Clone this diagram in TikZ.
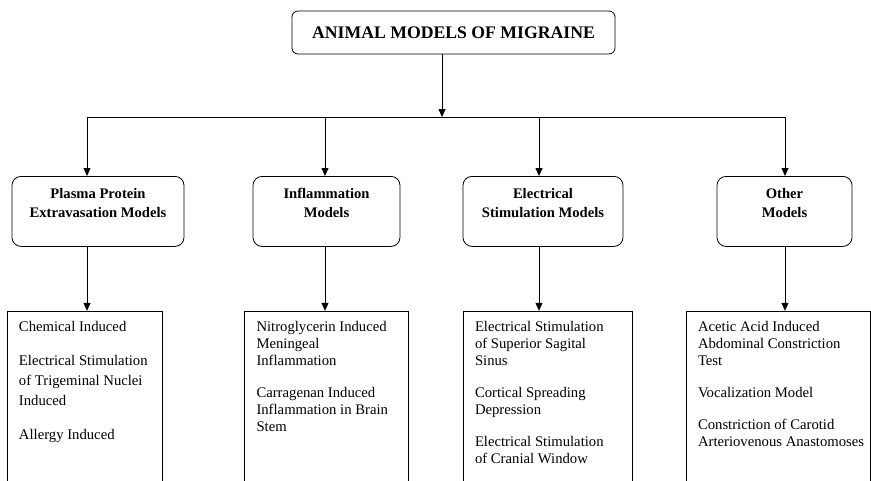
\documentclass[tikz,border=0pt]{standalone}
\usepackage{fontspec}
\setmainfont{Liberation Serif}
\usetikzlibrary{positioning,arrows.meta}

\begin{document}
\begin{tikzpicture}[x=1pt, y=-1pt, line width=0.8pt,
    >={Triangle[length=8pt,width=7pt]},
    title/.style = {draw, rounded corners=6pt, minimum width=323pt, minimum height=43pt,
      font=\fontsize{17.7}{20}\selectfont\bfseries},
    group/.style = {draw, rounded corners=9pt, anchor=north, inner sep=0pt,
      font=\fontsize{14.6}{19}\selectfont\bfseries},
    list/.style = {draw, inner xsep=12pt, inner ysep=0pt,
      font=\fontsize{14.7}{17}\selectfont}]

    \useasboundingbox (0,0) rectangle (871,480);

    \node[title] (top) at (453.5,32.5) {ANIMAL MODELS OF MIGRAINE};

    % branch points on the bar
    \coordinate (t) at (442,117);
    \coordinate (b1) at (87,117);
    \coordinate (b2) at (325,117);
    \coordinate (b3) at (539,117);
    \coordinate (b4) at (785,117);

    \node[group] (m1) at (98,176)
      {\parbox[t][70pt][t]{172pt}{\centering\rule{0pt}{22pt}Plasma Protein\\Extravasation Models}};
    \node[group] (m2) at (326.5,176)
      {\parbox[t][70pt][t]{147pt}{\centering\rule{0pt}{22pt}Inflammation\\Models}};
    \node[group] (m3) at (543,176)
      {\parbox[t][70pt][t]{160pt}{\centering\rule{0pt}{22pt}Electrical\\Stimulation Models}};
    \node[group] (m4) at (784.5,176)
      {\parbox[t][70pt][t]{135pt}{\centering\rule{0pt}{22pt}Other\\Models}};

    \node[list, below=64pt of m1, xshift=-13.5pt, font=\fontsize{14.7}{20}\selectfont] (l1)
      {\parbox[t][180pt][t]{131pt}{\raggedright\rule{0pt}{20pt}Chemical Induced\\[14pt]
        \mbox{Electrical Stimulation}\\of Trigeminal Nuclei\\Induced\\[14pt]
        Allergy Induced}};
    \node[list, below=64pt of m2] (l2)
      {\parbox[t][180pt][t]{140pt}{\raggedright\rule{0pt}{20pt}\mbox{Nitroglycerin Induced}\\Meningeal\\Inflammation\\[15pt]
        Carragenan Induced\\\mbox{Inflammation in Brain}\\Stem}};
    \node[list, below=64pt of m3, xshift=4.5pt] (l3)
      {\parbox[t][180pt][t]{145pt}{\raggedright\rule{0pt}{20pt}\mbox{Electrical Stimulation}\\of Superior Sagital\\Sinus\\[15pt]
        Cortical Spreading\\Depression\\[15pt]
        \mbox{Electrical Stimulation}\\of Cranial Window}};
    \node[list, below=64pt of m4, xshift=-6.5pt] (l4)
      {\parbox[t][180pt][t]{160pt}{\raggedright\rule{0pt}{20pt}Acetic Acid Induced\\\mbox{Abdominal Constriction}\\Test\\[15pt]
        Vocalization Model\\[15pt]
        Constriction of Carotid\\\mbox{Arteriovenous Anastomoses}}};

    \draw[->] (top.south -| t) -- (t);
    \draw (b1) -- (b4);
    \draw[->] (b1) -- (b1 |- m1.north);
    \draw[->] (b2) -- (b2 |- m2.north);
    \draw[->] (b3) -- (b3 |- m3.north);
    \draw[->] (b4) -- (b4 |- m4.north);

    \draw[->] (m1.south -| b1) -- (l1.north -| b1);
    \draw[->] (m2.south -| b2) -- (l2.north -| b2);
    \draw[->] (m3.south -| b3) -- (l3.north -| b3);
    \draw[->] (m4.south -| b4) -- (l4.north -| b4);
\end{tikzpicture}
\end{document}
